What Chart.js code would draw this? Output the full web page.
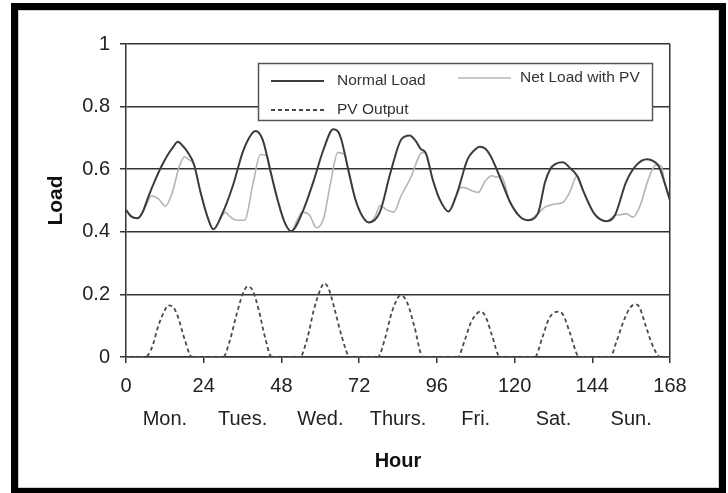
<!DOCTYPE html>
<html>
<head>
<meta charset="utf-8">
<script src="https://cdn.jsdelivr.net/npm/chart.js@4.4.1/dist/chart.umd.min.js"></script>
<style>
  html, body { margin: 0; padding: 0; background: #fff; }
  #wrap { position: relative; width: 728px; height: 493px; }
</style>
</head>
<body>
<div id="wrap"><canvas id="loadChart" width="728" height="493"></canvas></div>
<script>
// hours / values
const normalHours = [0, 1.5, 3.5, 5, 7, 9, 11, 13, 14.5, 16, 17.5, 19, 21, 23, 25, 27, 29.5, 33, 36, 38, 40, 41.5, 42.5, 44.7, 47, 49, 51, 54.5, 57.8, 61, 64, 65.5, 66.5, 68.6, 70.8, 73, 75, 78.4, 81.7, 85, 87.6, 89.5, 91, 92.5, 94.7, 96.8, 99.6, 102, 105.5, 107.5, 109.3, 111, 112.6, 115.3, 118.6, 121.5, 124, 127.2, 129.4, 131, 132.7, 134.9, 137, 139.3, 141.4, 144.6, 148.4, 151, 154.4, 157.6, 160.9, 163, 164.5, 166.3, 168];
const normalLoad = [0.47, 0.45, 0.443, 0.46, 0.515, 0.565, 0.61, 0.648, 0.67, 0.688, 0.675, 0.655, 0.615, 0.527, 0.453, 0.408, 0.452, 0.547, 0.653, 0.7, 0.722, 0.71, 0.685, 0.59, 0.495, 0.43, 0.402, 0.463, 0.558, 0.663, 0.728, 0.72, 0.695, 0.6, 0.505, 0.45, 0.43, 0.463, 0.59, 0.695, 0.708, 0.69, 0.665, 0.653, 0.568, 0.505, 0.465, 0.516, 0.632, 0.66, 0.672, 0.665, 0.642, 0.579, 0.495, 0.45, 0.437, 0.458, 0.558, 0.6, 0.617, 0.622, 0.605, 0.579, 0.526, 0.458, 0.434, 0.453, 0.558, 0.613, 0.632, 0.625, 0.61, 0.558, 0.5];

const netHours = [0, 1.5, 3.5, 5, 6.5, 7.8, 10, 12.2, 14.3, 16.5, 18.2, 19.2, 21, 23, 25, 27, 29, 30.6, 32, 34, 36.6, 39.3, 41.5, 43.6, 44.7, 47, 49, 51, 53, 54.5, 56.7, 58.8, 61, 63.2, 65.4, 67.5, 68.6, 70.8, 73, 75, 77, 78.4, 80.5, 82.7, 85, 88.2, 90, 91.4, 92.5, 94.7, 96.8, 99.6, 102, 103.4, 105, 106.6, 108.8, 111, 113, 114.5, 115.8, 118.6, 121.5, 124, 127.2, 129.4, 131, 132.7, 135, 137, 139.3, 141.4, 144.6, 148.4, 151, 153, 154.4, 156.6, 158.8, 161, 163.6, 165.3, 166.3, 168];
const netLoad = [0.47, 0.45, 0.443, 0.46, 0.49, 0.515, 0.505, 0.482, 0.526, 0.61, 0.64, 0.632, 0.615, 0.527, 0.453, 0.408, 0.44, 0.462, 0.45, 0.437, 0.437, 0.558, 0.647, 0.642, 0.59, 0.495, 0.43, 0.402, 0.44, 0.463, 0.453, 0.413, 0.442, 0.558, 0.653, 0.647, 0.6, 0.505, 0.45, 0.43, 0.45, 0.484, 0.47, 0.463, 0.516, 0.579, 0.63, 0.653, 0.653, 0.568, 0.505, 0.465, 0.516, 0.542, 0.54, 0.532, 0.526, 0.563, 0.579, 0.575, 0.579, 0.495, 0.45, 0.437, 0.458, 0.479, 0.485, 0.489, 0.495, 0.526, 0.579, 0.526, 0.458, 0.434, 0.453, 0.455, 0.458, 0.447, 0.484, 0.558, 0.613, 0.61, 0.558, 0.5];

const pvHours = [0, 5.9, 8, 10, 12, 13, 14.5, 16, 18, 20.4, 30, 32, 34, 36, 37.5, 39, 41, 43, 45, 53.7, 56, 58, 60, 61.2, 62.5, 64.5, 66.5, 69.2, 77.8, 80, 82, 84, 85, 87, 89, 91.7, 102.5, 104.5, 106.5, 108.5, 109.5, 111, 113, 115.5, 126.3, 128.5, 130.5, 132, 133.5, 135, 137, 140, 149.5, 151.5, 153.5, 155.5, 157.2, 158.5, 160.5, 162.5, 165, 168];
const pvOutput = [0, 0, 0.03, 0.1, 0.15, 0.165, 0.16, 0.13, 0.06, 0, 0, 0.05, 0.13, 0.2, 0.225, 0.215, 0.15, 0.06, 0, 0, 0.06, 0.15, 0.215, 0.235, 0.22, 0.15, 0.07, 0, 0, 0.06, 0.14, 0.19, 0.197, 0.17, 0.1, 0, 0, 0.05, 0.11, 0.14, 0.145, 0.13, 0.07, 0, 0, 0.06, 0.12, 0.14, 0.145, 0.135, 0.08, 0, 0, 0.05, 0.11, 0.155, 0.168, 0.16, 0.1, 0.04, 0, 0];

const dayTicks = [12, 36, 60, 84, 108, 132, 156];
const dayLabels = ["Mon.", "Tues.", "Wed.", "Thurs.", "Fri.", "Sat.", "Sun."];

const FONT = "'Liberation Sans', Arial, sans-serif";

function toPoints(xs, ys) {
  return xs.map((x, i) => ({ x: x, y: ys[i] }));
}

// outer black frame of the figure
const framePlugin = {
  id: 'frame',
  beforeDraw(chart) {
    const ctx = chart.ctx;
    ctx.save();
    ctx.fillStyle = '#fff';
    ctx.fillRect(0, 0, chart.width, chart.height);
    ctx.strokeStyle = '#000';
    ctx.lineWidth = 7;
    ctx.strokeRect(14.5, 6.5, 708, 485);
    ctx.strokeStyle = '#cfcfcf';
    ctx.lineWidth = 1;
    ctx.strokeRect(18.5, 10.5, 700, 477);
    ctx.restore();
  }
};

// boxed legend inside the plot
const legendBox = {
  id: 'legendBox',
  afterDatasetsDraw(chart) {
    const ctx = chart.ctx;
    ctx.save();
    ctx.fillStyle = '#fff';
    ctx.fillRect(258, 63, 395, 58);
    ctx.strokeStyle = '#555';
    ctx.lineWidth = 1.5;
    ctx.strokeRect(258.5, 63.5, 394, 57);

    const items = [
      { ds: 0, x: 271, y: 81, tx: 337 },
      { ds: 1, x: 458, y: 78, tx: 520 },
      { ds: 2, x: 271, y: 110, tx: 337 }
    ];
    ctx.font = '15.5px ' + FONT;
    ctx.textBaseline = 'middle';
    ctx.fillStyle = '#333';
    items.forEach(it => {
      const d = chart.data.datasets[it.ds];
      ctx.beginPath();
      ctx.strokeStyle = d.borderColor;
      ctx.lineWidth = d.borderWidth;
      ctx.setLineDash(d.borderDash || []);
      ctx.moveTo(it.x, it.y);
      ctx.lineTo(it.x + 53, it.y);
      ctx.stroke();
      ctx.setLineDash([]);
      ctx.fillText(d.label, it.tx, it.y);
    });
    ctx.restore();
  }
};

const ctx = document.getElementById('loadChart').getContext('2d');

new Chart(ctx, {
  type: 'line',
  data: {
    datasets: [
      {
        label: 'Normal Load',
        data: toPoints(normalHours, normalLoad),
        borderColor: '#3c3c3c',
        borderWidth: 2,
        pointRadius: 0,
        cubicInterpolationMode: 'monotone',
        xAxisID: 'x'
      },
      {
        label: 'Net Load with PV',
        data: toPoints(netHours, netLoad),
        borderColor: '#b4b4b4',
        borderWidth: 1.6,
        pointRadius: 0,
        cubicInterpolationMode: 'monotone',
        xAxisID: 'x'
      },
      {
        label: 'PV Output',
        data: toPoints(pvHours, pvOutput),
        borderColor: '#4a4a4a',
        borderWidth: 1.8,
        borderDash: [4, 3],
        pointRadius: 0,
        cubicInterpolationMode: 'monotone',
        xAxisID: 'x'
      }
    ]
  },
  options: {
    responsive: false,
    animation: false,
    layout: { padding: { left: 40, right: 58, top: 44, bottom: 16 } },
    plugins: {
      legend: { display: false },
      tooltip: { enabled: false }
    },
    scales: {
      x: {
        type: 'linear',
        position: 'bottom',
        weight: 0,
        min: 0,
        max: 168,
        ticks: {
          stepSize: 24,
          font: { family: FONT, size: 20 },
          color: '#222',
          padding: 11,
          maxRotation: 0
        },
        grid: {
          color: c => (c.tick && c.tick.value === 168 ? '#333' : 'transparent'),
          tickColor: '#333',
          tickLength: 6,
          lineWidth: 1.5
        },
        border: { color: '#333', width: 1.5 },
        afterFit: s => { s.height = 40; }
      },
      xDays: {
        type: 'linear',
        axis: 'x',
        position: 'bottom',
        weight: 1,
        min: 0,
        max: 168,
        afterBuildTicks: s => { s.ticks = dayTicks.map(v => ({ value: v })); },
        ticks: {
          autoSkip: false,
          maxRotation: 0,
          padding: 2,
          font: { family: FONT, size: 20 },
          color: '#222',
          callback: v => dayLabels[dayTicks.indexOf(v)]
        },
        grid: { display: false },
        border: { display: false },
        title: {
          display: true,
          text: 'Hour',
          font: { family: FONT, size: 20, weight: 'bold' },
          color: '#111'
        },
        afterFit: s => { s.height = 80; }
      },
      y: {
        min: 0,
        max: 1,
        ticks: {
          stepSize: 0.2,
          font: { family: FONT, size: 20 },
          color: '#222',
          padding: 10,
          callback: v => String(+v.toFixed(1))
        },
        grid: {
          color: '#333',
          tickColor: '#333',
          tickLength: 6,
          lineWidth: 1.5
        },
        border: { color: '#333', width: 1.5 },
        title: {
          display: true,
          text: 'Load',
          font: { family: FONT, size: 21, weight: 'bold' },
          color: '#111'
        },
        afterFit: s => { s.width = 86; }
      }
    }
  },
  plugins: [framePlugin, legendBox]
});
</script>
</body>
</html>
